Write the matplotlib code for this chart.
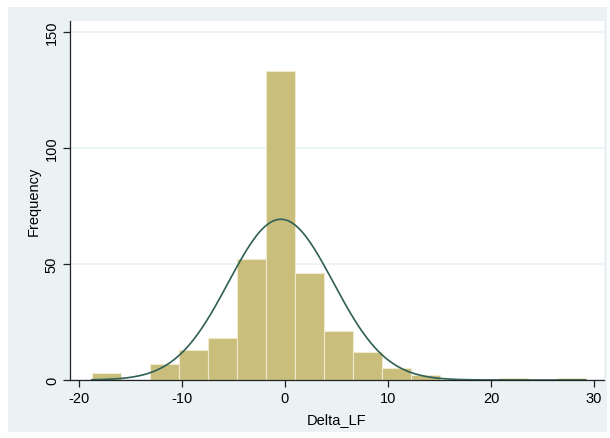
import numpy as np
import matplotlib
matplotlib.use("Agg")
import matplotlib.pyplot as plt
from matplotlib.patches import Rectangle

# histogram of Delta_LF (Stata style, 17 bins)
bin_start = -18.75
bin_width = 2.82
counts = [3, 0, 7, 13, 18, 52, 133, 46, 21, 12, 5, 2, 0, 0, 1, 0, 1]

# normal density overlay
norm_mean = -0.4
norm_sd = 5.1

xticks = [-20, -10, 0, 10, 20, 30]
yticks = [0, 50, 100, 150]

plt.rcParams['font.family'] = ['Liberation Sans', 'DejaVu Sans']
plt.rcParams['axes.unicode_minus'] = False

edges = bin_start + bin_width * np.arange(len(counts) + 1)

fig = plt.figure(figsize=(6.1, 4.39), dpi=100)
fig.patch.set_facecolor('white')
fig.patches.append(Rectangle((8 / 610, 6 / 439), 599 / 610, 425 / 439,
                             transform=fig.transFigure, facecolor='#eaf2f3',
                             edgecolor='none', zorder=-10))

ax = fig.add_axes([70 / 610, 58 / 439, 534 / 610, 359 / 439])
ax.set_facecolor('white')

ax.bar(edges[:-1], counts, width=np.diff(edges), align='edge',
       color='#c9be7b', edgecolor='#eeeacb', linewidth=0.8, zorder=2)

n = sum(counts)
xs = np.linspace(edges[0], edges[-1], 400)
ys = n * bin_width * np.exp(-0.5 * ((xs - norm_mean) / norm_sd) ** 2) / (norm_sd * np.sqrt(2 * np.pi))
ax.plot(xs, ys, color='#2f5f55', linewidth=1.2, zorder=3)

ax.set_xlim(-20.87, 30.97)
ax.set_ylim(0, 154.7)
ax.set_xticks(xticks)
ax.set_yticks(yticks)
ax.set_yticklabels([str(t) for t in yticks], rotation=90, va='center')
ax.yaxis.grid(True, color='#eaf2f3', linewidth=1.2, zorder=0)
ax.set_axisbelow(True)

for s in ['top', 'right']:
    ax.spines[s].set_visible(False)
for s in ['left', 'bottom']:
    ax.spines[s].set_color('#222222')
    ax.spines[s].set_linewidth(0.9)
ax.tick_params(axis='both', length=5, width=0.9, color='#222222', labelsize=10.5, pad=3)

ax.set_xlabel('Delta_LF', fontsize=10.5, labelpad=5)
ax.set_ylabel('Frequency', fontsize=10.5, labelpad=3)

fig.savefig('out.png', dpi=100, facecolor=fig.get_facecolor())
